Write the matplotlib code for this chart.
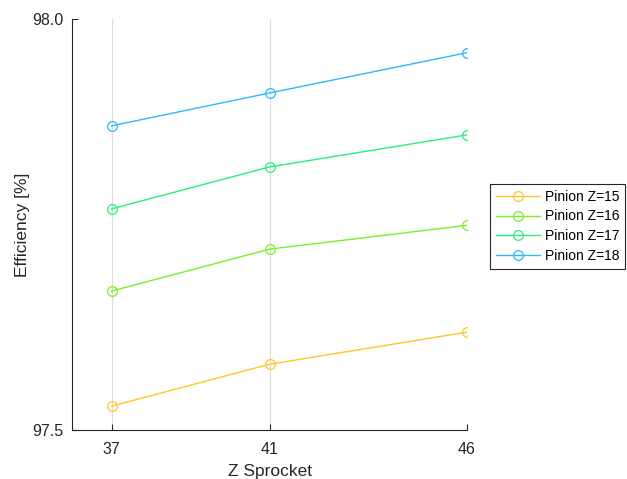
import matplotlib
matplotlib.use("Agg")
from matplotlib import pyplot as plt

plt.rcParams['font.family'] = ['Liberation Sans', 'DejaVu Sans']

# sprocket tooth counts and efficiency per pinion
z_sprocket = [37, 41, 46]
eff_z15 = [97.529, 97.580, 97.619]
eff_z16 = [97.669, 97.720, 97.749]
eff_z17 = [97.769, 97.820, 97.859]
eff_z18 = [97.870, 97.910, 97.959]

labels = ['Pinion Z=15', 'Pinion Z=16', 'Pinion Z=17', 'Pinion Z=18']
colors = ['#FFC628', '#78F028', '#28F078', '#30B8FF']
series = [eff_z15, eff_z16, eff_z17, eff_z18]

fig = plt.figure(figsize=(6.27, 4.79), dpi=100)
ax = fig.add_axes([72/627, 1-430/479, (467-72)/627, (430-19)/479])

for vals, col, lab in zip(series, colors, labels):
    ax.plot(z_sprocket, vals, '-o', color=col, lw=1.0, ms=7,
            mfc='none', mew=0.9, label=lab)

ax.set_xlim(36, 46)
ax.set_ylim(97.5, 98.0)
ax.set_xticks(z_sprocket)
ax.set_yticks([97.5, 98.0])
ax.set_yticklabels(['97.5', '98.0'])
ax.grid(axis='x', color='#dcdcdc', lw=0.8)
ax.set_axisbelow(True)

for s in ['top', 'right']:
    ax.spines[s].set_visible(False)
for s in ['left', 'bottom']:
    ax.spines[s].set_color('#262626')
    ax.spines[s].set_linewidth(0.8)
ax.tick_params(direction='in', length=4, width=0.8, colors='#262626',
               labelsize=11.5)
ax.tick_params(axis='x', pad=9)
ax.tick_params(axis='y', pad=6)

ax.set_xlabel('Z Sprocket', fontsize=12.5, color='#262626', labelpad=5)
ax.set_ylabel('Efficiency [%]', fontsize=12.5, color='#262626', labelpad=2)

leg = ax.legend(loc='upper left', bbox_to_anchor=(490/627, 1-184/479),
                bbox_transform=fig.transFigure, borderaxespad=0,
                fontsize=10, fancybox=False, framealpha=1,
                edgecolor='#262626', handlelength=3.2, handletextpad=0.35,
                labelspacing=0.42, borderpad=0.4)
leg.get_frame().set_linewidth(0.8)

fig.savefig('out.png', dpi=100)
